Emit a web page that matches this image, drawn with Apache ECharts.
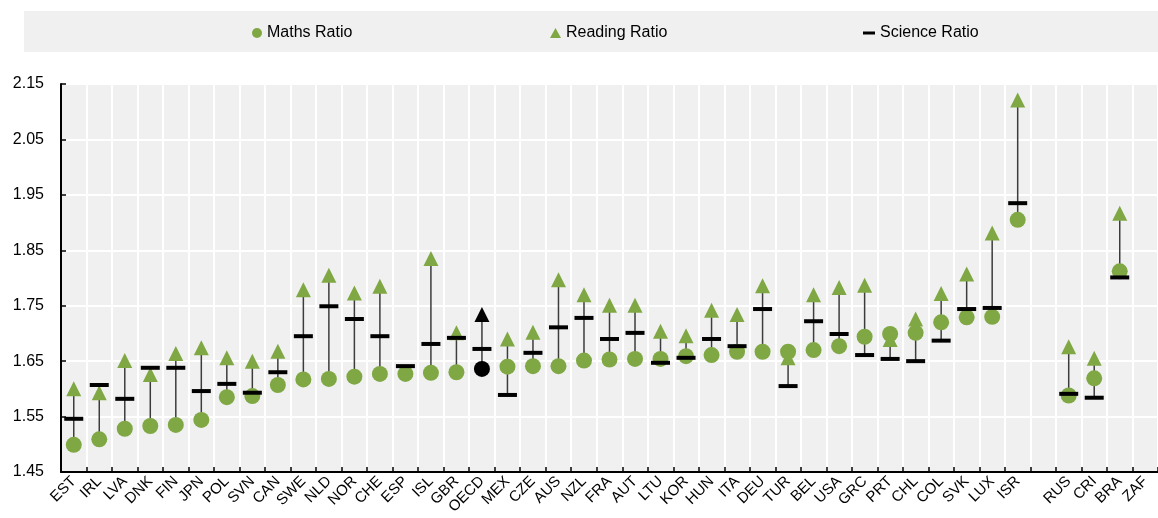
<!DOCTYPE html>
<html lang="en">
  <head>
    <meta charset="UTF-8" />
    <script src="https://cdn.jsdelivr.net/npm/echarts@6/dist/echarts.min.js"></script>
    <title>PISA ratios</title>
    <style>
      html, body { margin: 0; padding: 0; background: #fff; }
    </style>
  </head>
  <body>
    <div id="container" style="width: 1158px; height: 518px;"></div>

    <script>
      const countries = ['EST','IRL','LVA','DNK','FIN','JPN','POL','SVN','CAN','SWE','NLD','NOR','CHE','ESP','ISL','GBR','OECD','MEX','CZE','AUS','NZL','FRA','AUT','LTU','KOR','HUN','ITA','DEU','TUR','BEL','USA','GRC','PRT','CHL','COL','SVK','LUX','ISR','','RUS','CRI','BRA','ZAF'];

      const maths = [1.499,1.509,1.528,1.533,1.535,1.544,1.585,1.587,1.607,1.617,
        1.618,1.622,1.627,1.627,1.629,1.630,1.636,1.640,1.641,1.641,
        1.651,1.653,1.654,1.654,1.659,1.661,1.667,1.667,1.667,1.670,
        1.677,1.694,1.699,1.701,1.720,1.729,1.730,1.905,null,1.588,
        1.619,1.812,null];

      const reading = [1.600,1.593,1.651,1.626,1.664,1.674,1.656,1.650,1.668,1.779,
        1.805,1.773,1.785,null,1.835,1.701,1.734,1.690,1.702,1.797,
        1.770,1.751,1.751,1.704,1.696,1.742,1.734,1.786,1.656,1.770,
        1.783,1.787,1.689,1.726,1.772,1.807,1.881,2.121,null,1.676,
        1.655,1.917,null];

      const science = [1.546,1.607,1.582,1.638,1.638,1.596,1.609,1.593,1.630,1.695,
        1.749,1.726,1.695,1.641,1.681,1.692,1.672,1.589,1.665,1.711,
        1.728,1.690,1.701,1.647,1.656,1.690,1.677,1.744,1.605,1.722,
        1.699,1.661,1.654,1.650,1.687,1.744,1.746,1.935,null,1.591,
        1.584,1.801,null];

      const yTicks = [1.45, 1.55, 1.65, 1.75, 1.85, 1.95, 2.05, 2.15];

      const green = '#7FA844';
      const font = 'Liberation Sans, Arial, sans-serif';

      // OECD average is drawn in black
      function withHighlight(values) {
        return values.map((v, i) => {
          if (v == null) return null;
          if (countries[i] === 'OECD') return { value: v, itemStyle: { color: '#000' } };
          return v;
        });
      }

      // low/high for the connecting line
      const ranges = countries.map((c, i) => {
        const vals = [maths[i], reading[i], science[i]].filter((v) => v != null);
        if (!vals.length) return [i, null, null];
        return [i, Math.min(...vals), Math.max(...vals)];
      });

      const myChart = echarts.init(document.getElementById('container'));

      const legendText = { fontSize: 16, color: '#000', fontFamily: font };

      const option = {
        animation: false,
        graphic: [
          {
            type: 'rect',
            shape: { x: 24, y: 11, width: 1134, height: 41 },
            style: { fill: '#f0f0f0' },
            z: -1,
          },
        ],
        legend: [
          {
            left: 247, top: 20, itemWidth: 10, itemHeight: 10,
            textStyle: legendText, selectedMode: false,
            data: [{ name: 'Maths Ratio', icon: 'circle' }],
          },
          {
            left: 545, top: 20, itemWidth: 11, itemHeight: 10,
            textStyle: legendText, selectedMode: false,
            data: [{ name: 'Reading Ratio', icon: 'triangle' }],
          },
          {
            left: 858, top: 20, itemWidth: 12, itemHeight: 3,
            textStyle: legendText, selectedMode: false,
            data: [{ name: 'Science Ratio', icon: 'rect' }],
          },
        ],
        grid: {
          top: 84,
          right: 0,
          bottom: 46,
          left: 61,
          show: true,
          backgroundColor: '#f0f0f0',
          borderWidth: 0,
        },
        xAxis: {
          type: 'category',
          data: countries,
          axisLine: { lineStyle: { color: '#000', width: 2 } },
          axisTick: { show: true, inside: true, length: 5, interval: 0, lineStyle: { color: '#000', width: 1.5 } },
          axisLabel: { interval: 0, rotate: 45, fontSize: 15, color: '#000', fontFamily: font, margin: 7 },
          splitLine: { show: true, interval: 0, lineStyle: { color: '#fff', width: 2 } },
        },
        yAxis: {
          type: 'value',
          min: 1.45,
          max: 2.15,
          axisLine: { show: true, lineStyle: { color: '#000', width: 2 } },
          axisTick: { show: true, inside: true, length: 5, customValues: yTicks, lineStyle: { color: '#000', width: 1.5 } },
          axisLabel: {
            customValues: yTicks,
            formatter: (v) => v.toFixed(2),
            fontSize: 16, color: '#000', fontFamily: font, margin: 17,
          },
          splitLine: { show: true, lineStyle: { color: '#fff', width: 2 } },
        },
        series: [
          {
            name: 'range',
            type: 'custom',
            data: ranges,
            z: 1,
            renderItem: function (params, api) {
              const lo = api.value(1);
              const hi = api.value(2);
              if (lo == null || isNaN(lo)) return null;
              const p1 = api.coord([api.value(0), lo]);
              const p2 = api.coord([api.value(0), hi]);
              return {
                type: 'line',
                shape: { x1: p1[0], y1: p1[1], x2: p2[0], y2: p2[1] },
                style: { stroke: '#3c3c3c', lineWidth: 1.5 },
              };
            },
          },
          {
            name: 'Reading Ratio',
            type: 'scatter',
            symbol: 'triangle',
            symbolSize: [15, 15],
            itemStyle: { color: green, opacity: 1 },
            data: withHighlight(reading),
            z: 2,
          },
          {
            name: 'Maths Ratio',
            type: 'scatter',
            symbol: 'circle',
            symbolSize: 16,
            itemStyle: { color: green, opacity: 1 },
            data: withHighlight(maths),
            z: 3,
          },
          {
            name: 'Science Ratio',
            type: 'scatter',
            symbol: 'rect',
            symbolSize: [19, 4],
            itemStyle: { color: '#000', opacity: 1 },
            data: science,
            z: 4,
          },
        ],
      };

      myChart.setOption(option);
    </script>
  </body>
</html>
